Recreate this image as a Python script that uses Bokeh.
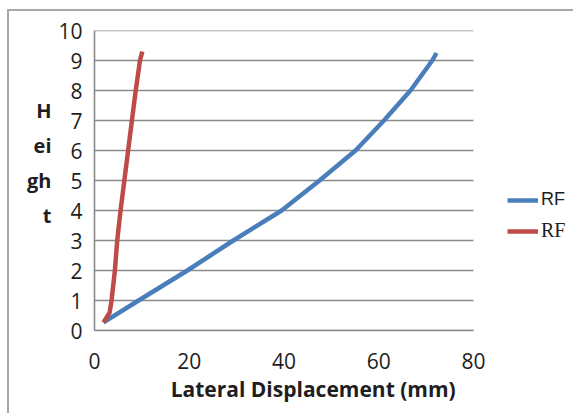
from bokeh.plotting import figure
from bokeh.models import Legend, LegendItem, Range1d, FixedTicker
from bokeh.embed import file_html
from bokeh.resources import INLINE

# data
blue_x = [1.9, 9.3, 19.6, 29.3, 39.5, 47.5, 55.1, 61.1, 66.7, 71.3, 72.2]
blue_y = [0.27, 1, 2, 3, 4, 5, 6, 7, 8, 9, 9.25]
red_x = [1.9, 3.2, 3.6, 4.3, 4.8, 5.5, 6.3, 7.1, 7.9, 8.7, 9.6, 10.1]
red_y = [0.27, 0.6, 1, 2, 3, 4, 5, 6, 7, 8, 9, 9.3]
x_ticks = [0, 20, 40, 60, 80]
y_ticks = list(range(0, 11))
series_names = ["RF", "RF"]
x_title = "Lateral Displacement (mm)"
y_title = "H\nei\ngh\nt\n"

FONT = "Open Sans"
TXT = "#1e1e1e"
GRID = "#8a8a8a"

x_max = x_ticks[-1]
p = figure(width=566, height=404, output_backend="svg", toolbar_location=None,
           x_range=Range1d(0, x_max * 481 / 379), y_range=Range1d(0, 10),
           min_border_left=85, min_border_top=19, min_border_right=0, min_border_bottom=85)
p.margin = (9, 0, 0, 7)
p.styles = {"border-left": "2px solid #a8a8a8", "border-top": "2px solid #a8a8a8"}
p.outline_line_color = None
p.background_fill_color = "white"
p.border_fill_color = "white"

p.xgrid.grid_line_color = None
p.ygrid.grid_line_color = None
# horizontal gridlines limited to the plotted x extent
p.segment(x0=[0] * len(y_ticks), x1=[x_max] * len(y_ticks), y0=y_ticks, y1=y_ticks,
          line_color=GRID, line_width=1.6)

p.xaxis.ticker = FixedTicker(ticks=x_ticks)
p.yaxis.ticker = FixedTicker(ticks=y_ticks)
p.xaxis.bounds = (0, x_max)
for ax in (p.xaxis, p.yaxis):
    ax.axis_line_color = GRID
    ax.axis_line_width = 1.6
    ax.major_tick_line_color = None
    ax.minor_tick_line_color = None
    ax.major_tick_out = 0
    ax.major_tick_in = 0
    ax.major_label_text_font = FONT
    ax.major_label_text_font_size = "21px"
    ax.major_label_text_color = TXT
    ax.axis_label_text_font = FONT
    ax.axis_label_text_font_style = "bold"
    ax.axis_label_text_font_size = "20px"
    ax.axis_label_text_color = TXT

p.xaxis.major_label_standoff = 22
p.yaxis.major_label_standoff = 12
# pad so the title centres under the 0-80 span rather than the whole frame
p.xaxis.axis_label = x_title + "\u00a0" * 8
p.xaxis.axis_label_text_font_size = "21px"
p.xaxis.axis_label_standoff = 3
p.yaxis.axis_label = y_title
p.yaxis.axis_label_orientation = "horizontal"
p.yaxis.axis_label_text_line_height = 1.3
p.yaxis.axis_label_standoff = 4

r_blue = p.line(blue_x, blue_y, line_color="#4a7ebb", line_width=4.5)
r_red = p.line(red_x, red_y, line_color="#be4b48", line_width=4.5)

leg1 = Legend(items=[LegendItem(label=series_names[0], renderers=[r_blue])],
              location=(413, 120), margin=0, padding=0, border_line_color=None,
              background_fill_alpha=0, glyph_width=31, glyph_height=16, label_standoff=3,
              label_text_font="Liberation Sans", label_text_font_size="18px",
              label_text_color=TXT, label_height=16)
leg2 = Legend(items=[LegendItem(label=series_names[1], renderers=[r_red])],
              location=(413, 88), margin=0, padding=0, border_line_color=None,
              background_fill_alpha=0, glyph_width=31, glyph_height=16, label_standoff=3,
              label_text_font="Liberation Serif", label_text_font_size="20px",
              label_text_color=TXT, label_height=16)
p.add_layout(leg1)
p.add_layout(leg2)

open("out.html", "w").write(file_html(p, INLINE))
